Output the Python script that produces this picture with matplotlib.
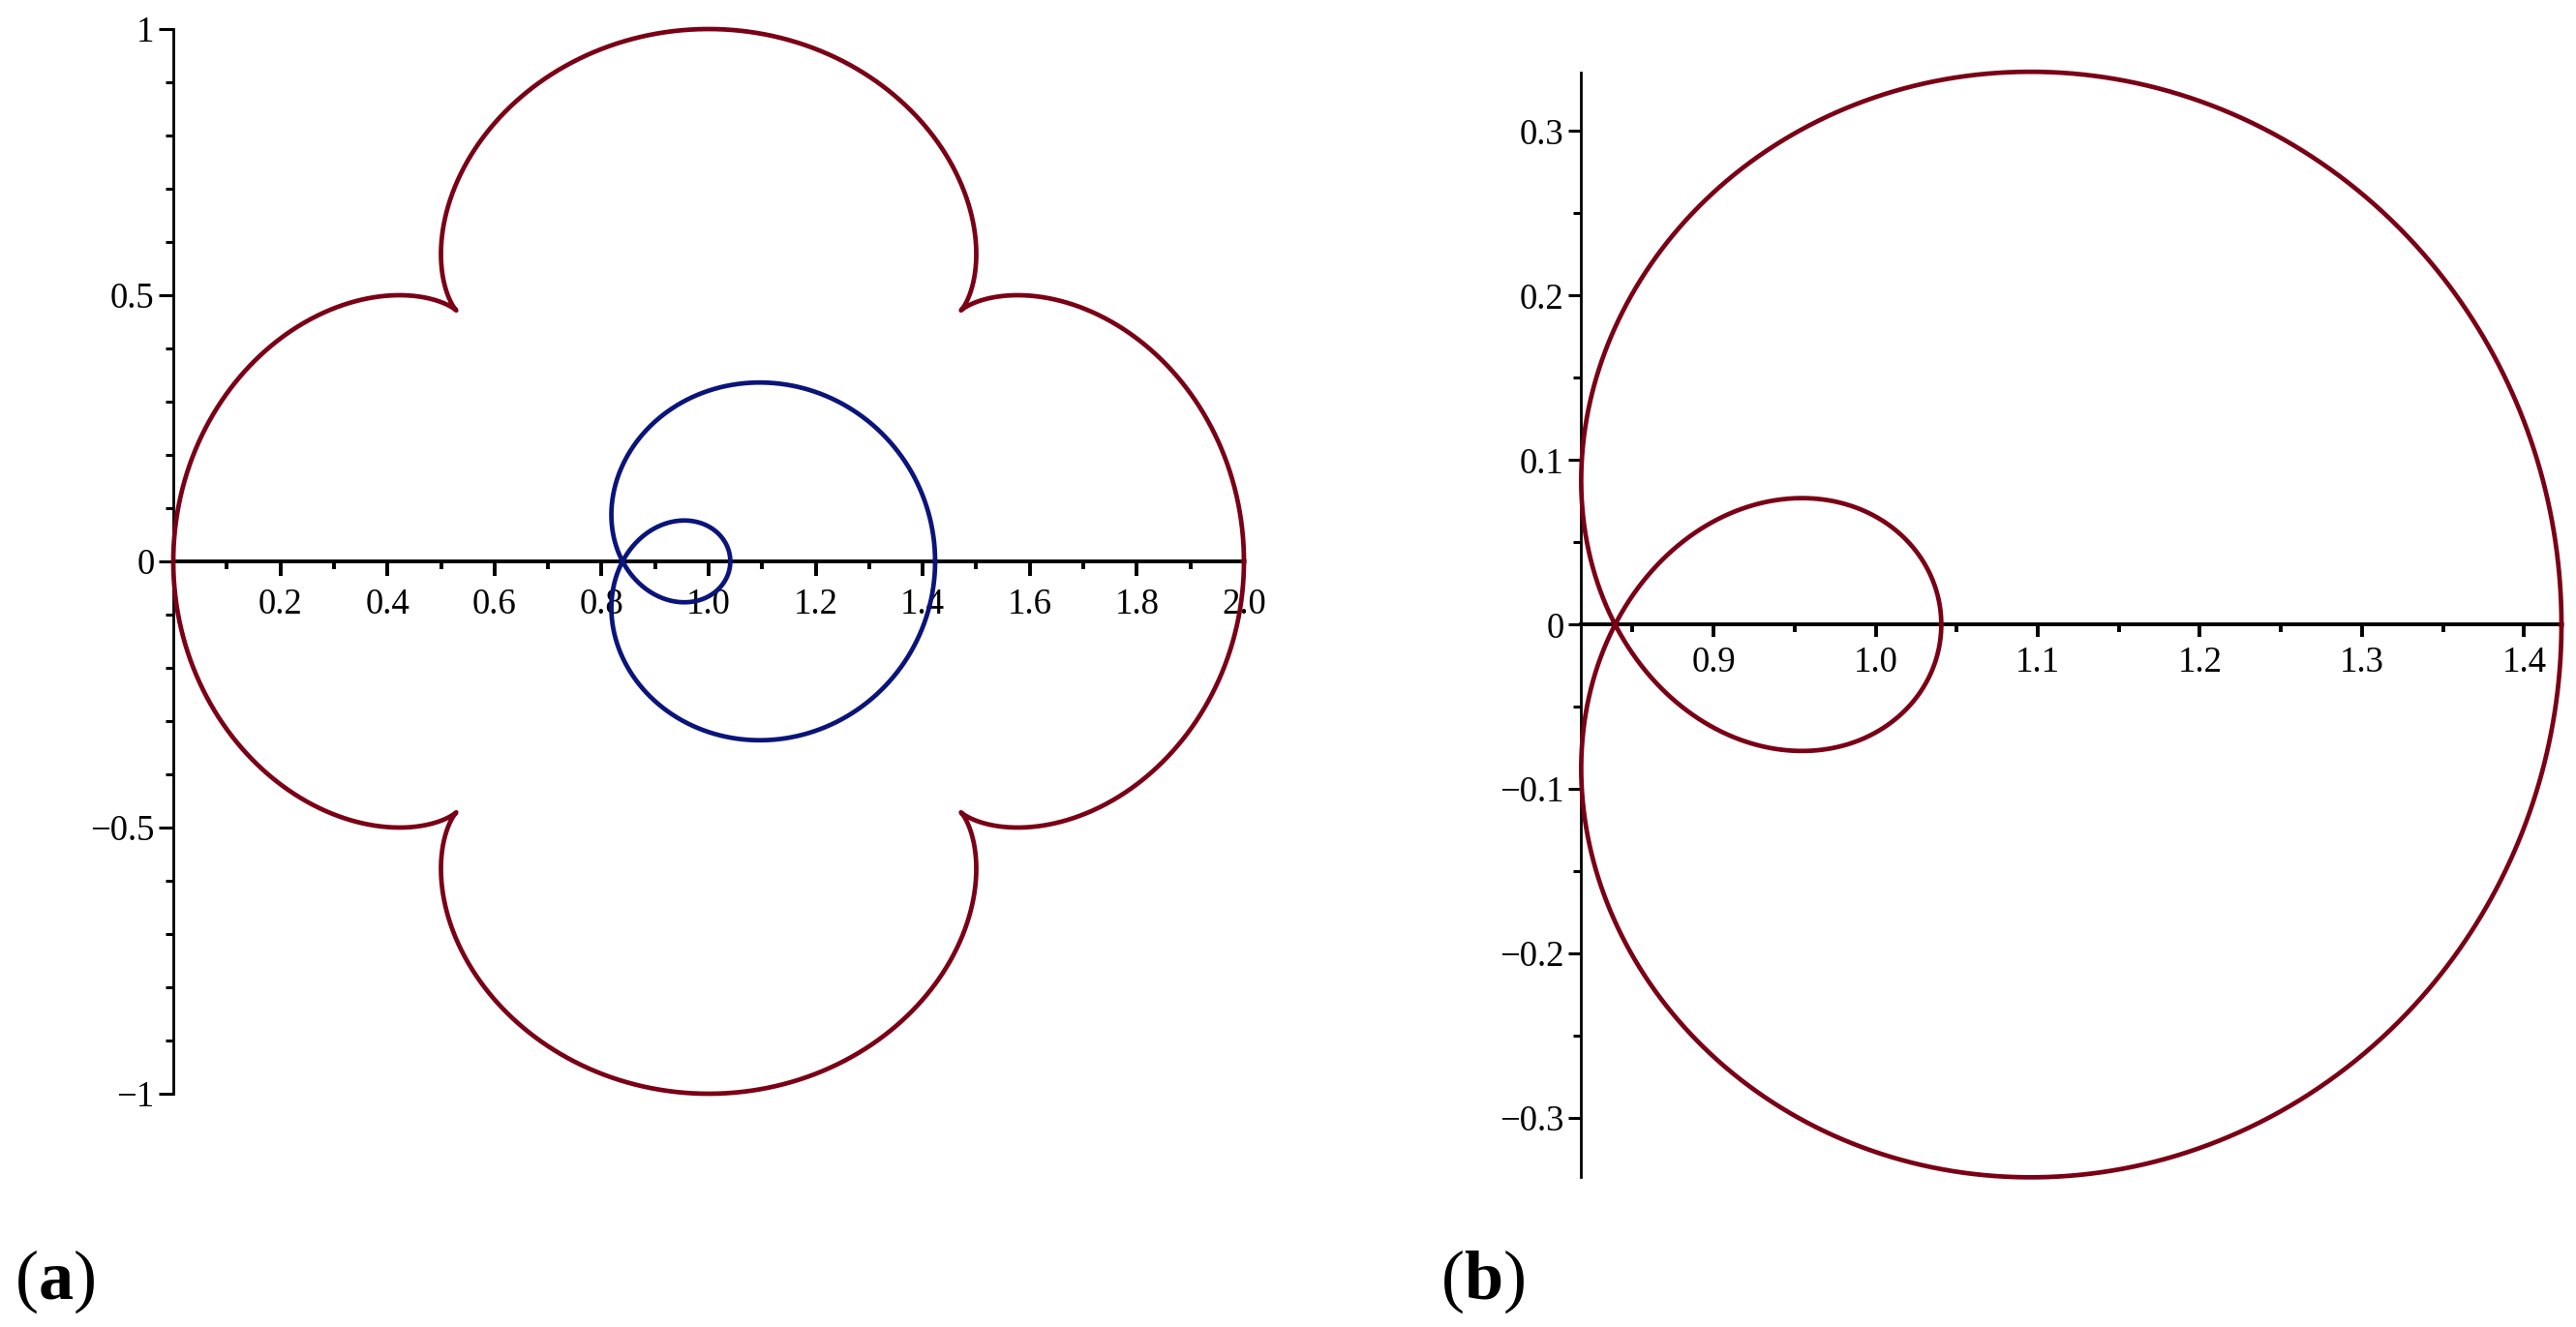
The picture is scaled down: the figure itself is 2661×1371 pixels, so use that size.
import numpy as np
import matplotlib
matplotlib.use("Agg")
import matplotlib.pyplot as plt

plt.rcParams['font.family'] = ['Liberation Serif', 'DejaVu Serif']
plt.rcParams['mathtext.fontset'] = 'custom'
plt.rcParams['mathtext.rm'] = 'Liberation Serif'
plt.rcParams['mathtext.bf'] = 'Liberation Serif:bold'

# ---- curve parameters ----
# red: four-cusped epicycloid around (1, 0)
red_center = 1.0
red_amp = [1 / 1.2, 0.2 / 1.2]
red_freq = [1, 5]
# blue: limacon-like loop  x = c + A cos t + q cos 2t,  y = B sin t + q sin 2t
blue_c = 1.0368
blue_A = 0.1913
blue_B = 0.1860
blue_q = 0.1950

# ---- axes / ticks ----
a_xlim = (0.0, 2.0)
a_ylim = (-1.0, 1.0)
a_xticks = [0.2, 0.4, 0.6, 0.8, 1.0, 1.2, 1.4, 1.6, 1.8, 2.0]
a_xlabels = ["0.2", "0.4", "0.6", "0.8", "1.0", "1.2", "1.4", "1.6", "1.8", "2.0"]
a_xminor = [0.1, 0.3, 0.5, 0.7, 0.9, 1.1, 1.3, 1.5, 1.7, 1.9]
a_yticks = [-1.0, -0.5, 0.0, 0.5, 1.0]
a_ylabels = ["\u22121", "\u22120.5", "0", "0.5", "1"]
a_yminor = [-0.9, -0.8, -0.7, -0.6, -0.4, -0.3, -0.2, -0.1,
            0.1, 0.2, 0.3, 0.4, 0.6, 0.7, 0.8, 0.9]

b_xlim = (0.8183, 1.4231)
b_ylim = (-0.3355, 0.3355)
b_xticks = [0.9, 1.0, 1.1, 1.2, 1.3, 1.4]
b_xlabels = ["0.9", "1.0", "1.1", "1.2", "1.3", "1.4"]
b_xminor = [0.85, 0.95, 1.05, 1.15, 1.25, 1.35]
b_yticks = [-0.3, -0.2, -0.1, 0.0, 0.1, 0.2, 0.3]
b_ylabels = ["\u22120.3", "\u22120.2", "\u22120.1", "0", "0.1", "0.2", "0.3"]
b_yminor = [-0.25, -0.15, -0.05, 0.05, 0.15, 0.25]

RED = "#7a0016"
BLUE = "#0a147a"

t = np.linspace(0, 2 * np.pi, 4001)
red_x = red_center + sum(a * np.cos(f * t) for a, f in zip(red_amp, red_freq))
red_y = sum(a * np.sin(f * t) for a, f in zip(red_amp, red_freq))
blue_x = blue_c + blue_A * np.cos(t) + blue_q * np.cos(2 * t)
blue_y = blue_B * np.sin(t) + blue_q * np.sin(2 * t)

fig = plt.figure(figsize=(26.61, 13.71), dpi=100)

LS = 26.5


def style(ax, xlim, ylim, xt, xl, xm, yt, yl, ym, maj, mnr, xpad):
    ax.set_xlim(*xlim)
    ax.set_ylim(*ylim)
    ax.spines['top'].set_visible(False)
    ax.spines['right'].set_visible(False)
    ax.spines['bottom'].set_position(('data', 0))
    ax.spines['left'].set_position(('data', xlim[0]))
    ax.spines['bottom'].set_linewidth(2.8)
    ax.spines['left'].set_linewidth(2.0)
    ax.set_xticks(xt)
    ax.set_xticklabels(xl)
    ax.set_xticks(xm, minor=True)
    ax.set_yticks(yt)
    ax.set_yticklabels(yl)
    ax.set_yticks(ym, minor=True)
    ax.tick_params(axis='x', which='major', direction='out', length=maj,
                   width=2.8, pad=xpad, labelsize=LS)
    ax.tick_params(axis='x', which='minor', direction='out', length=mnr,
                   width=2.8)
    ax.tick_params(axis='y', which='major', direction='out', length=maj,
                   width=2.2, pad=3.5, labelsize=LS)
    ax.tick_params(axis='y', which='minor', direction='out', length=mnr,
                   width=2.2)
    ax.patch.set_visible(False)


axL = fig.add_axes([0.06727, 0.17579, 0.41563, 0.80233])
axL.plot(red_x, red_y, color=RED, lw=3.4, clip_on=False, zorder=3)
axL.plot(blue_x, blue_y, color=BLUE, lw=3.4, clip_on=False, zorder=3)
style(axL, a_xlim, a_ylim, a_xticks, a_xlabels, a_xminor,
      a_yticks, a_ylabels, a_yminor, 10.5, 5.8, 9)

axR = fig.add_axes([0.61379, 0.11342, 0.38057, 0.83187])
axR.plot(blue_x, blue_y, color=RED, lw=3.4, clip_on=False, zorder=3)
style(axR, b_xlim, b_ylim, b_xticks, b_xlabels, b_xminor,
      b_yticks, b_ylabels, b_yminor, 9.2, 5.5, 7)

fig.text(0.0056, 0.0212, r"($\mathbf{a}$)", fontsize=52, ha='left', va='baseline')
fig.text(0.5592, 0.0212, r"($\mathbf{b}$)", fontsize=52, ha='left', va='baseline')

fig.savefig("out.png", dpi=100)
